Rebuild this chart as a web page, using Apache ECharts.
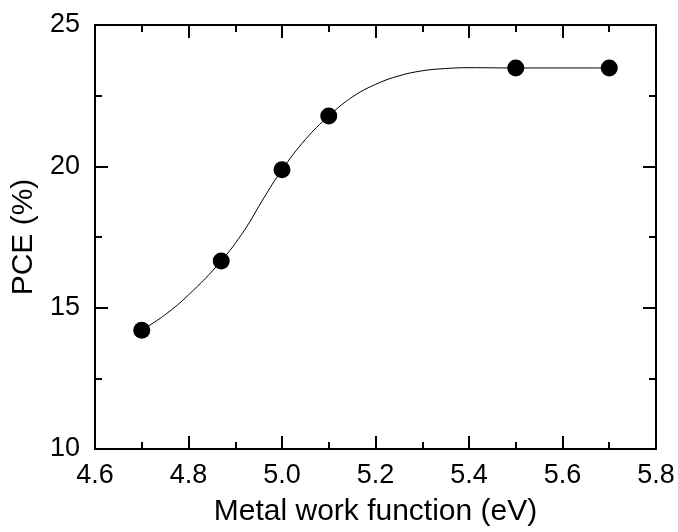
<!DOCTYPE html>
<html>
<head>
<meta charset="utf-8">
<script src="https://cdn.jsdelivr.net/npm/echarts@6/dist/echarts.min.js"></script>
<style>
  html, body { margin: 0; padding: 0; background: #fff; }
  #chart { width: 678px; height: 532px; }
</style>
</head>
<body>
<div id="chart"></div>
<script>
// measured points
const workFunction = [4.7, 4.87, 5.0, 5.1, 5.5, 5.7]
const pce = [14.2, 16.65, 19.88, 21.78, 23.48, 23.48]

// fitted curve
const fitX = [4.7, 4.75, 4.8, 4.87, 4.92, 4.96, 5.0, 5.05, 5.1, 5.15, 5.2, 5.25, 5.3, 5.35, 5.4, 5.5, 5.6, 5.7]
const fitY = [14.2, 14.75, 15.45, 16.65, 17.75, 18.85, 19.88, 20.95, 21.78, 22.45, 22.9, 23.2, 23.38, 23.46, 23.49, 23.48, 23.48, 23.48]

const font = 'Liberation Sans, Arial, sans-serif'
const chart = echarts.init(document.getElementById('chart'))

function xAxisCfg(pos, showLabel) {
  return {
    type: 'value',
    position: pos,
    min: 4.6,
    max: 5.8,
    interval: 0.2,
    axisLine: { show: true, onZero: false, lineStyle: { color: '#000', width: 2 } },
    axisTick: { show: true, inside: true, length: 13, lineStyle: { color: '#000', width: 2 } },
    minorTick: { show: true, splitNumber: 2, length: 7, lineStyle: { color: '#000', width: 2 } },
    splitLine: { show: false },
    minorSplitLine: { show: false },
    axisLabel: {
      show: showLabel,
      margin: 13,
      color: '#000',
      fontSize: 27,
      fontFamily: font,
      formatter: v => v.toFixed(1)
    }
  }
}

function yAxisCfg(pos, showLabel) {
  return {
    type: 'value',
    position: pos,
    min: 10,
    max: 25,
    interval: 5,
    axisLine: { show: true, onZero: false, lineStyle: { color: '#000', width: 2 } },
    axisTick: { show: true, inside: true, length: 13, lineStyle: { color: '#000', width: 2 } },
    minorTick: { show: true, splitNumber: 2, length: 7, lineStyle: { color: '#000', width: 2 } },
    splitLine: { show: false },
    minorSplitLine: { show: false },
    axisLabel: {
      show: showLabel,
      margin: 15,
      color: '#000',
      fontSize: 27,
      fontFamily: font
    }
  }
}

const xBottom = Object.assign(xAxisCfg('bottom', true), {
  name: 'Metal work function (eV)',
  nameLocation: 'middle',
  nameGap: 48,
  nameTextStyle: { color: '#000', fontSize: 30, fontFamily: font }
})
const yLeft = Object.assign(yAxisCfg('left', true), {
  name: 'PCE (%)',
  nameLocation: 'middle',
  nameGap: 50,
  nameTextStyle: { color: '#000', fontSize: 30, fontFamily: font }
})

chart.setOption({
  animation: false,
  backgroundColor: '#fff',
  grid: { left: 95, right: 22, top: 25, bottom: 75, containLabel: false },
  xAxis: [xBottom, xAxisCfg('top', false)],
  yAxis: [yLeft, yAxisCfg('right', false)],
  series: [
    {
      name: 'fit',
      type: 'line',
      xAxisIndex: 0,
      yAxisIndex: 0,
      smooth: 0.4,
      symbol: 'none',
      lineStyle: { color: '#000', width: 1 },
      data: fitX.map((x, i) => [x, fitY[i]])
    },
    {
      name: 'PCE',
      type: 'scatter',
      xAxisIndex: 0,
      yAxisIndex: 0,
      symbol: 'circle',
      symbolSize: 17,
      itemStyle: { color: '#000', opacity: 1 },
      data: workFunction.map((x, i) => [x, pce[i]])
    }
  ]
})
</script>
</body>
</html>
